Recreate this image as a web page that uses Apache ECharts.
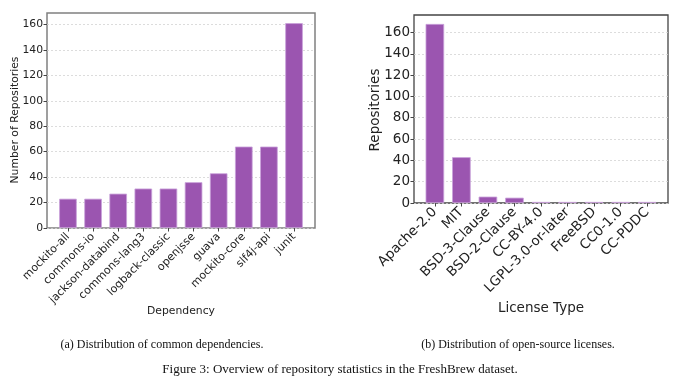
<!DOCTYPE html>
<html><head><meta charset="utf-8">
<script src="https://cdn.jsdelivr.net/npm/echarts@6/dist/echarts.min.js"></script>
<style>html,body{margin:0;padding:0;background:#fff}#c{width:680px;height:386px}</style>
</head><body><div id="c"></div>
<script>
var depCategories = ['mockito-all','commons-io','jackson-databind','commons-lang3','logback-classic','openjsse','guava','mockito-core','slf4j-api','junit'];
var depValues = [23,23,27,31,31,36,43,64,64,161];
var licCategories = ['Apache-2.0','MIT','BSD-3-Clause','BSD-2-Clause','CC-BY-4.0','LGPL-3.0-or-later','FreeBSD','CC0-1.0','CC-PDDC'];
var licValues = [168,43,6,5,1,1,1,1,1];
var depYMax = 169, licYMax = 176.4;

var chart = echarts.init(document.getElementById('c'), null, {renderer:'canvas'});
var F = 'DejaVu Sans';
var barStyle = {color:'#9b55b0', borderColor:'#c9a2da', borderWidth:0.8};
function frameY(max, fs){
  return {min:0,max:max,interval:20,
    axisLine:{show:false}, axisTick:{show:true,length:3.5,lineStyle:{color:'#444'}},
    axisLabel:{fontFamily:F,fontSize:fs,color:'#222',margin:4,showMaxLabel:false},
    splitLine:{show:true,showMaxLine:false,lineStyle:{color:'#d4d4d4',type:[2,2],width:0.8}}};
}
chart.setOption({
  animation:false,
  grid:[
    {left:47,top:13,width:268,height:215,show:true,borderColor:'#808080',borderWidth:1.5,backgroundColor:'transparent'},
    {left:55.4,top:13,width:251.2,height:215},
    {left:414,top:15,width:254,height:188,show:true,borderColor:'#444',borderWidth:1.3,backgroundColor:'transparent'},
    {left:421.6,top:15,width:238.8,height:188}
  ],
  xAxis:[
    {gridIndex:0,type:'value',min:0,max:1,show:false},
    {gridIndex:1,type:'category',data:depCategories,axisLine:{show:false},
      axisTick:{show:true,alignWithLabel:true,length:3.5,lineStyle:{color:'#444'}},
      axisLabel:{rotate:45,fontFamily:F,fontSize:11,color:'#222',margin:7,interval:0}},
    {gridIndex:2,type:'value',min:0,max:1,show:false},
    {gridIndex:3,type:'category',data:licCategories,axisLine:{show:false},
      axisTick:{show:true,alignWithLabel:true,length:3.5,lineStyle:{color:'#444'}},
      axisLabel:{rotate:45,fontFamily:F,fontSize:13.5,color:'#222',margin:7,interval:0}}
  ],
  yAxis:[
    Object.assign({gridIndex:0}, frameY(depYMax,10.8)),
    {gridIndex:1,min:0,max:depYMax,show:false},
    Object.assign({gridIndex:2}, frameY(licYMax,13.5)),
    {gridIndex:3,min:0,max:licYMax,show:false}
  ],
  series:[
    {type:'bar',xAxisIndex:1,yAxisIndex:1,data:depValues,barWidth:'70%',itemStyle:barStyle},
    {type:'bar',xAxisIndex:3,yAxisIndex:3,data:licValues,barWidth:'70%',itemStyle:barStyle}
  ],
  graphic:[
    {type:'text',x:15,y:120,rotation:Math.PI/2,style:{text:'Number of Repositories',font:'10.8px "DejaVu Sans"',fill:'#222',align:'center',verticalAlign:'middle'}},
    {type:'text',x:181,y:311,style:{text:'Dependency',font:'10.8px "DejaVu Sans"',fill:'#222',align:'center',verticalAlign:'middle'}},
    {type:'text',x:375,y:110,rotation:Math.PI/2,style:{text:'Repositories',font:'13.5px "DejaVu Sans"',fill:'#222',align:'center',verticalAlign:'middle'}},
    {type:'text',x:541,y:308,style:{text:'License Type',font:'13.5px "DejaVu Sans"',fill:'#222',align:'center',verticalAlign:'middle'}},
    {type:'text',x:162,y:345,style:{text:'(a) Distribution of common dependencies.',font:'12px "Liberation Serif"',fill:'#111',align:'center',verticalAlign:'middle'}},
    {type:'text',x:518,y:345,style:{text:'(b) Distribution of open-source licenses.',font:'12px "Liberation Serif"',fill:'#111',align:'center',verticalAlign:'middle'}},
    {type:'text',x:340,y:370,style:{text:'Figure 3: Overview of repository statistics in the FreshBrew dataset.',font:'13px "Liberation Serif"',fill:'#111',align:'center',verticalAlign:'middle'}}
  ]
});
</script></body></html>
